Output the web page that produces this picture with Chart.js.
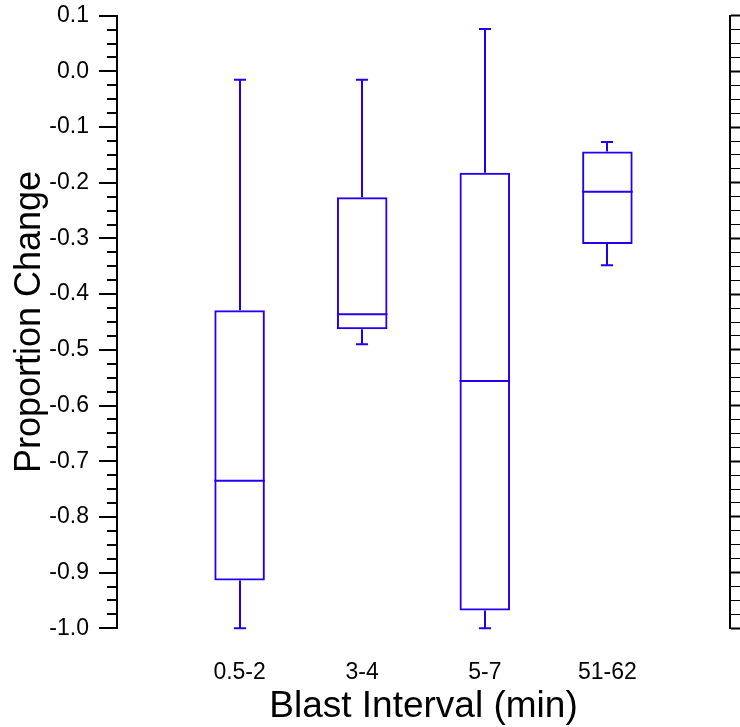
<!DOCTYPE html>
<html>
<head>
<meta charset="utf-8">
<script src="https://cdn.jsdelivr.net/npm/chart.js@4.4.1/dist/chart.umd.min.js"></script>
<style>
  html, body { margin: 0; padding: 0; background: #fff; }
  canvas { display: block; }
</style>
</head>
<body>
<canvas id="c" width="740" height="727"></canvas>
<script>
// ---- data ----
const categories   = ['0.5-2', '3-4', '5-7', '51-62'];
const whiskerLow   = [-1.000, -0.490, -1.000, -0.348];
const q1           = [-0.914, -0.463, -0.968, -0.310];
const medians      = [-0.735, -0.436, -0.556, -0.216];
const q3           = [-0.429, -0.226, -0.182, -0.144];
const whiskerHigh  = [-0.015, -0.015,  0.076, -0.127];

const majorTicks = [-1.0, -0.9, -0.8, -0.7, -0.6, -0.5, -0.4, -0.3, -0.2, -0.1, 0.0, 0.1];
const minorPerMajor = 4;

// ---- derived structures ----
const xLabels = [''].concat(categories, ['']);
const boxData = [null].concat(q1.map((v, i) => [v, q3[i]]), [null]);

const tickValues = [];
for (let i = 0; i < majorTicks.length; i++) {
  tickValues.push(majorTicks[i]);
  if (i < majorTicks.length - 1) {
    const step = (majorTicks[i + 1] - majorTicks[i]) / minorPerMajor;
    for (let k = 1; k < minorPerMajor; k++) {
      tickValues.push(Math.round((majorTicks[i] + k * step) * 10000) / 10000);
    }
  }
}
const isMajor = v => majorTicks.some(m => Math.abs(m - v) < 1e-6);

const BLUE = 'rgb(34,0,238)';
const FONT = 'Liberation Sans, Arial, sans-serif';

const boxPlugin = {
  id: 'boxParts',
  afterDatasetsDraw(chart) {
    const ctx = chart.ctx;
    const ys = chart.scales.y;
    const meta = chart.getDatasetMeta(0);
    ctx.save();
    ctx.strokeStyle = BLUE;
    ctx.lineWidth = 2;
    meta.data.forEach((bar, i) => {
      const idx = i - 1;
      if (idx < 0 || idx >= categories.length) return;
      const p = bar.getProps(['x', 'width'], true);
      if (!isFinite(p.x)) return;
      const x = Math.round(p.x);
      const half = p.width / 2;
      const cap = p.width * 0.12;
      const yQ1 = ys.getPixelForValue(q1[idx]);
      const yQ3 = ys.getPixelForValue(q3[idx]);
      const yMed = ys.getPixelForValue(medians[idx]);
      const yLo = ys.getPixelForValue(whiskerLow[idx]);
      const yHi = ys.getPixelForValue(whiskerHigh[idx]);
      ctx.beginPath();
      ctx.moveTo(p.x - half, yMed); ctx.lineTo(p.x + half, yMed);
      ctx.moveTo(x, yQ3); ctx.lineTo(x, yHi);
      ctx.moveTo(x - cap, yHi); ctx.lineTo(x + cap, yHi);
      ctx.moveTo(x, yQ1); ctx.lineTo(x, yLo);
      ctx.moveTo(x - cap, yLo); ctx.lineTo(x + cap, yLo);
      ctx.stroke();
    });
    ctx.restore();
  },
  afterDraw(chart) {
    // tick marks on the left axis: long majors, short minors (outside)
    const ctx = chart.ctx;
    const ys = chart.scales.y;
    ctx.save();
    ctx.strokeStyle = '#000';
    ctx.lineWidth = 2;
    ctx.beginPath();
    ys.ticks.forEach(t => {
      const len = isMajor(t.value) ? 18 : 10;
      const py = Math.round(ys.getPixelForValue(t.value));
      ctx.moveTo(ys.right - len, py);
      ctx.lineTo(ys.right, py);
    });
    ctx.stroke();
    ctx.restore();
  }
};

const setTicks = s => { s.ticks = tickValues.map(v => ({ value: v })); };
const noPad = s => { s.paddingTop = 0; s.paddingBottom = 0; s.paddingLeft = 0; s.paddingRight = 0; };

new Chart(document.getElementById('c'), {
  type: 'bar',
  data: {
    labels: xLabels,
    datasets: [{
      data: boxData,
      yAxisID: 'y',
      borderColor: BLUE,
      backgroundColor: 'rgba(0,0,0,0)',
      borderWidth: 2,
      borderSkipped: false,
      barPercentage: 0.412,
      categoryPercentage: 1
    }]
  },
  options: {
    responsive: false,
    animation: false,
    devicePixelRatio: 1,
    layout: { padding: { top: 15.7, left: 0, right: 0, bottom: 0 } },
    plugins: { legend: { display: false }, tooltip: { enabled: false } },
    scales: {
      x: {
        type: 'category',
        offset: false,
        grid: { display: false, drawTicks: true, tickLength: 31 },
        border: { display: false },
        ticks: { color: '#000', font: { family: FONT, size: 23 }, padding: 0, autoSkip: false, maxRotation: 0 },
        title: { display: true, text: 'Blast Interval (min)', color: '#000',
                 font: { family: FONT, size: 37, lineHeight: 1.1 }, padding: 0 },
        afterFit: s => { s.height = 98.7; noPad(s); }
      },
      y: {
        type: 'linear',
        position: 'left',
        min: -1.0,
        max: 0.1,
        afterBuildTicks: setTicks,
        ticks: {
          color: '#000', font: { family: FONT, size: 23 }, padding: 10, autoSkip: false,
          callback: v => isMajor(v) ? (Math.abs(v) < 1e-9 ? '0.0' : Number(v).toFixed(1)) : ''
        },
        grid: {
          drawOnChartArea: false, drawTicks: true, tickLength: 18, tickWidth: 2,
          tickColor: 'rgba(0,0,0,0)'
        },
        border: { display: true, color: '#000', width: 2 },
        title: { display: true, text: 'Proportion Change', color: '#000',
                 font: { family: FONT, size: 36, lineHeight: 1.2 }, padding: { top: 8, bottom: 0 } },
        afterFit: s => { s.width = 117; noPad(s); }
      },
      y2: {
        type: 'linear',
        position: 'right',
        min: -1.0,
        max: 0.1,
        afterBuildTicks: setTicks,
        ticks: { display: false },
        grid: {
          drawOnChartArea: false, drawTicks: true, tickLength: 12, tickColor: '#000',
          tickWidth: c => (c.tick && isMajor(c.tick.value)) ? 2 : 1
        },
        border: { display: true, color: '#000', width: 2 },
        afterFit: s => { s.width = 10; noPad(s); }
      }
    }
  },
  plugins: [boxPlugin]
});
</script>
</body>
</html>
